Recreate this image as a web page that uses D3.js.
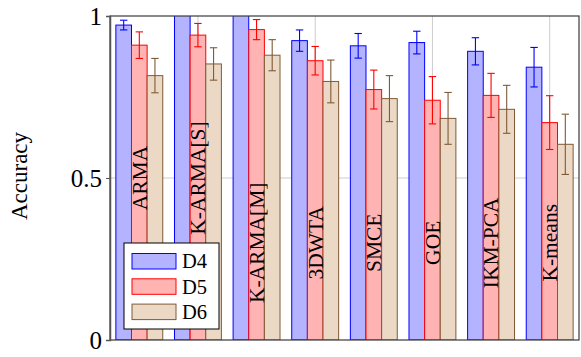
<!DOCTYPE html>
<html>
<head>
<meta charset="utf-8">
<title>Accuracy</title>
<style>
  body { margin: 0; background: white; }
  text { font-family: "Liberation Serif", "Times New Roman", serif; fill: #000; }
  .grid line { stroke: #cccccc; stroke-width: 1; }
  .frame { fill: none; stroke: #3a3a3a; stroke-width: 1.2; }
</style>
</head>
<body>
<div id="chart"></div>
<script src="https://d3js.org/d3.v7.min.js"></script>
<script>
// categories and series
var methods = ["ARMA", "K-ARMA[S]", "K-ARMA[M]", "3DWTA", "SMCE", "GOE", "IKM-PCA", "K-means"];
var series = ["D4", "D5", "D6"];

// mean accuracy per method
var d4 = [0.972, 1.03, 1.03, 0.924, 0.908, 0.918, 0.891, 0.842];
var d5 = [0.910, 0.941, 0.958, 0.862, 0.773, 0.740, 0.755, 0.671];
var d6 = [0.816, 0.852, 0.879, 0.798, 0.745, 0.684, 0.712, 0.604];

// error (half length of the error bar)
var d4err = [0.015, 0.01, 0.01, 0.033, 0.038, 0.035, 0.042, 0.061];
var d5err = [0.041, 0.036, 0.031, 0.044, 0.060, 0.073, 0.068, 0.083];
var d6err = [0.053, 0.050, 0.048, 0.066, 0.071, 0.080, 0.074, 0.093];

// height at which the method name is written
var labelY = [0.5, 0.5, 0.3, 0.3, 0.3, 0.3, 0.3, 0.3];

var yTicks = [0, 0.5, 1];

var width = 581, height = 357;
var margin = {top: 16, right: 2, bottom: 17, left: 110};
var w = width - margin.left - margin.right,
    h = height - margin.top - margin.bottom;

var colors = {
  D4: {fill: "#b3b3ff", stroke: "#0000ff"},
  D5: {fill: "#ffb3b3", stroke: "#ff0000"},
  D6: {fill: "#ebd9c6", stroke: "#7f5a36"}
};

var values = {D4: d4, D5: d5, D6: d6};
var errors = {D4: d4err, D5: d5err, D6: d6err};

var svg = d3.select("#chart")
  .append("svg")
  .attr("width", width)
  .attr("height", height);

var g = svg.append("g")
  .attr("transform", "translate(" + margin.left + "," + margin.top + ")");

var x0 = d3.scaleBand().domain(methods).range([0, w]);
var bw = x0.bandwidth();
var x1 = d3.scaleBand().domain(series).range([bw * 0.1, bw * 0.9]);
var y = d3.scaleLinear().domain([0, 1]).range([h, 0]);

svg.append("defs").append("clipPath").attr("id", "clip")
  .append("rect").attr("width", w).attr("height", h);

// grid
var grid = g.append("g").attr("class", "grid");
grid.selectAll("line.v")
  .data(methods.filter(function(d, i) { return i % 2 == 1; }))
  .enter().append("line")
  .attr("x1", function(d) { return x0(d) + bw / 2; })
  .attr("x2", function(d) { return x0(d) + bw / 2; })
  .attr("y1", 0).attr("y2", h);
grid.append("line")
  .attr("x1", 0).attr("x2", w)
  .attr("y1", y(0.5)).attr("y2", y(0.5));

// bars
var plot = g.append("g").attr("clip-path", "url(#clip)");

series.forEach(function(s) {
  var sg = plot.append("g");
  sg.selectAll("rect")
    .data(methods)
    .enter().append("rect")
    .attr("x", function(d) { return x0(d) + x1(s); })
    .attr("y", function(d, i) { return y(values[s][i]); })
    .attr("width", x1.bandwidth())
    .attr("height", function(d, i) { return h - y(values[s][i]); })
    .attr("fill", colors[s].fill)
    .attr("stroke", colors[s].stroke)
    .attr("stroke-width", 1);

  // error bars
  var eb = sg.selectAll("g.err")
    .data(methods)
    .enter().append("g")
    .attr("class", "err")
    .attr("stroke", colors[s].stroke)
    .attr("stroke-width", 1.1);
  eb.append("line")
    .attr("x1", function(d) { return x0(d) + x1(s) + x1.bandwidth() / 2; })
    .attr("x2", function(d) { return x0(d) + x1(s) + x1.bandwidth() / 2; })
    .attr("y1", function(d, i) { return y(values[s][i] + errors[s][i]); })
    .attr("y2", function(d, i) { return y(values[s][i] - errors[s][i]); });
  [1, -1].forEach(function(sign) {
    eb.append("line")
      .attr("x1", function(d) { return x0(d) + x1(s) + x1.bandwidth() / 2 - 3.7; })
      .attr("x2", function(d) { return x0(d) + x1(s) + x1.bandwidth() / 2 + 3.7; })
      .attr("y1", function(d, i) { return y(values[s][i] + sign * errors[s][i]); })
      .attr("y2", function(d, i) { return y(values[s][i] + sign * errors[s][i]); });
  });
});

// method names, written upwards
g.selectAll("text.method")
  .data(methods)
  .enter().append("text")
  .attr("class", "method")
  .attr("transform", function(d, i) {
    return "translate(" + (x0(d) + bw / 2) + "," + y(labelY[i]) + ") rotate(-90)";
  })
  .attr("text-anchor", "middle")
  .attr("dy", "0.34em")
  .style("font-size", "21.5px")
  .text(function(d) { return d; });

// frame
g.append("rect").attr("class", "frame")
  .attr("width", w).attr("height", h);

// y axis
var yAxis = g.append("g")
  .call(d3.axisLeft(y).tickValues(yTicks).tickSize(4).tickPadding(4)
    .tickFormat(function(d) { return d; }));
yAxis.attr("font-family", null).attr("font-size", null);
yAxis.select(".domain").attr("stroke", "#555").attr("stroke-width", 1.5);
yAxis.selectAll(".tick line").attr("stroke", "#555");
yAxis.selectAll(".tick text")
  .style("font-size", "25px")
  .attr("dy", "0.34em");

svg.append("text")
  .attr("transform", "translate(27," + (margin.top + h / 2 - 2) + ") rotate(-90)")
  .attr("text-anchor", "middle")
  .style("font-size", "23px")
  .text("Accuracy");

// legend
var legend = g.append("g")
  .attr("transform", "translate(" + (124 - margin.left) + "," + (243 - margin.top) + ")");
legend.append("rect")
  .attr("width", 95).attr("height", 86)
  .attr("fill", "white").attr("stroke", "#000").attr("stroke-width", 1);
var item = legend.selectAll("g.item")
  .data(series)
  .enter().append("g")
  .attr("class", "item")
  .attr("transform", function(d, i) { return "translate(8," + (10.5 + i * 25.3) + ")"; });
item.append("rect")
  .attr("width", 44).attr("height", 15.5)
  .attr("fill", function(d) { return colors[d].fill; })
  .attr("stroke", function(d) { return colors[d].stroke; })
  .attr("stroke-width", 1);
item.append("text")
  .attr("x", 50).attr("y", 14.8)
  .style("font-size", "20.5px")
  .text(function(d) { return d; });
</script>
</body>
</html>
